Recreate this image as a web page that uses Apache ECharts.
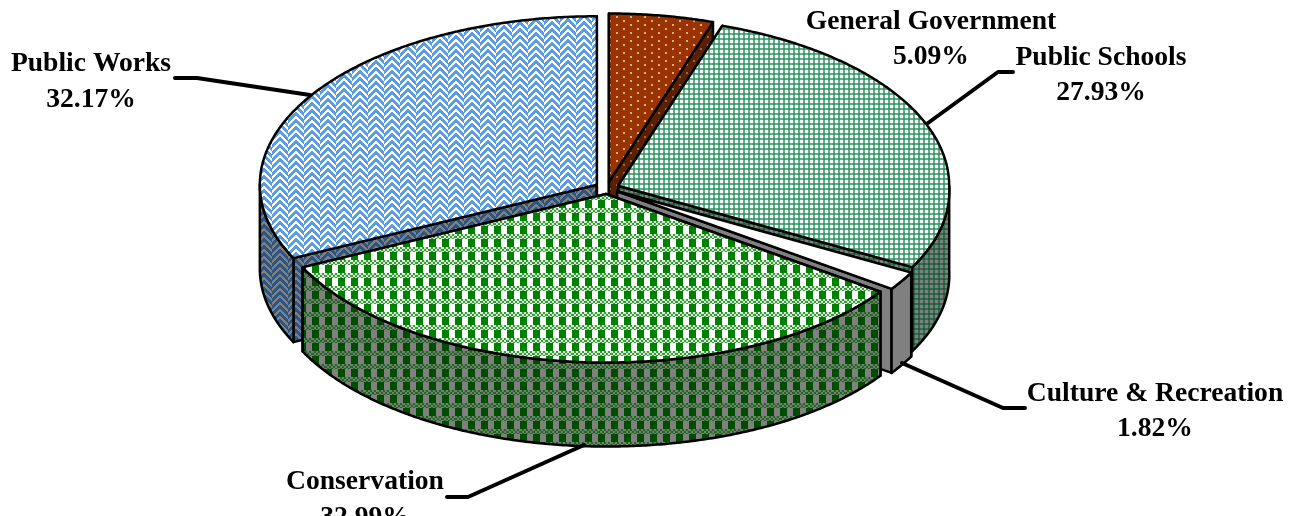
<!DOCTYPE html>
<html>
<head>
<meta charset="utf-8">
<style>html,body{margin:0;padding:0;background:#fff;overflow:hidden}#c{width:1303px;height:516px}</style>
<script src="https://cdn.jsdelivr.net/npm/echarts@6/dist/echarts.min.js"></script>
</head>
<body>
<div id="c"></div>
<script>
const categories = ['General Government', 'Public Schools', 'Culture & Recreation', 'Conservation', 'Public Works'];
const shares = [5.09, 27.93, 1.82, 32.99, 32.17];

// --- pattern tiles ---
function tile(w, h, bg, cells) {
  const cv = document.createElement('canvas');
  cv.width = w; cv.height = h;
  const g = cv.getContext('2d');
  g.fillStyle = bg; g.fillRect(0, 0, w, h);
  for (let y = 0; y < h; y++) for (let x = 0; x < w; x++) {
    const col = cells(x, y);
    if (col) { g.fillStyle = col; g.fillRect(x, y, 1, 1); }
  }
  return { image: cv, repeat: 'repeat' };
}
function dots(bg, fg) {
  return tile(14, 8, bg, (x, y) => {
    const a = x < 2 && y < 2;
    const b = x >= 7 && x < 9 && y >= 4 && y < 6;
    return a || b ? fg : null;
  });
}
function checks(bg, fg, mid) {
  return tile(5, 5, bg, (x, y) => {
    const a = x >= 3, b = y >= 3;
    if (a && b) return fg;
    return a || b ? mid : null;
  });
}
function plaid(bg, fg, bandA, bandB) {
  return tile(13, 13, bg, (x, y) => {
    if (y < 5) return ((x >> 1) + (y >> 1)) % 2 ? bandA : bandB;
    return x < 7 ? fg : null;
  });
}
function weave(bg, fg) {
  return tile(32, 7, bg, (x, y) => {
    const col = Math.floor(x / 16), u = x % 16;
    const tri = u < 8 ? u : 15 - u;
    const d = (y + tri + (col % 2 ? 3 : 0)) % 7;
    return d < 4 ? fg : null;
  });
}
const topFill = [
  dots('#993300', '#d3ab96'),
  checks('#ffffff', '#339966', '#5fae88'),
  '#ffffff',
  plaid('#ffffff', '#008000', '#3a9a3a', '#d8ecd8'),
  weave('#ffffff', '#5a9de6')
];
const sideFill = [
  dots('#5c1f00', '#8a6a58'),
  checks('#808080', '#1f5c3d', '#35694f'),
  '#808080',
  plaid('#808080', '#004d00', '#2a602a', '#6a856a'),
  weave('#808080', '#2a5584')
];

// --- label placement, in picture pixels, by slice ---
const labelBox = [
  { x: 931, y: 39.5, line: null },
  { x: 1101, y: 75.5, line: [[1013, 72], [998, 72], [928, 123]] },
  { x: 1155, y: 411.5, line: [[1025, 408], [1003, 408], [902, 363]] },
  { x: 365, y: 500, line: [[447, 497], [468, 497], [584, 445]] },
  { x: 91, y: 82, line: [[175, 78], [197, 78], [310, 95]] }
];

// --- 3D pie projection ---
const CX = 607, CY = 188, RX_LEFT = 337, RX_RIGHT = 331, FRONT_WIDEN = 0.03, RY = 168.5, DEPTH = 84, EXPLODE = 12;
const total = shares.reduce((a, b) => a + b, 0);
let acc = 0;
const spans = shares.map(v => { const s = acc / total * 360; acc += v; return [s, acc / total * 360]; });
const rad = d => d * Math.PI / 180;

function renderSlice(params, api) {
  const i = params.dataIndex;
  const [a0, a1] = spans[i];
  const mid = (a0 + a1) / 2;
  const ox = CX + EXPLODE * Math.sin(rad(mid));
  const oy = CY - EXPLODE * RY / 334 * Math.cos(rad(mid));
  const at = (deg, drop) => {
    const s = Math.sin(rad(deg)), c = Math.cos(rad(deg));
    const w = s >= 0 ? RX_RIGHT * (1 + FRONT_WIDEN * Math.max(0, -c)) : RX_LEFT;
    return [ox + w * s, oy - RY * c + (drop || 0)];
  };
  const px = p => api.coord(p);
  const arc = (from, to, drop) => {
    const out = [];
    const n = Math.max(2, Math.ceil((to - from) / 0.5));
    for (let k = 0; k <= n; k++) out.push(px(at(from + (to - from) * k / n, drop)));
    return out;
  };
  const depthRank = -Math.cos(rad(mid));
  const base = Math.round((depthRank + 1) * 100);
  const line = { stroke: '#000', lineWidth: 2.5, lineJoin: 'round' };
  const kids = [];
  // radial walls
  [a0, a1].forEach(a => {
    kids.push({
      type: 'polygon', z2: base,
      shape: { points: [px([ox, oy]), px(at(a)), px(at(a, DEPTH)), px([ox, oy + DEPTH])] },
      style: Object.assign({ fill: sideFill[i] }, line)
    });
  });
  // outer wall, front-facing part only
  const f0 = Math.max(a0, 90), f1 = Math.min(a1, 270);
  if (f1 > f0) {
    kids.push({
      type: 'polygon', z2: base + 1,
      shape: { points: arc(f0, f1, 0).concat(arc(f0, f1, DEPTH).reverse()) },
      style: Object.assign({ fill: sideFill[i] }, line)
    });
  }
  // top face
  kids.push({
    type: 'polygon', z2: base + 2,
    shape: { points: [px([ox, oy])].concat(arc(a0, a1, 0)) },
    style: Object.assign({ fill: topFill[i] }, line)
  });
  // label and leader
  const lb = labelBox[i];
  if (lb.line) {
    kids.push({
      type: 'polyline', z2: 500,
      shape: { points: lb.line.map(px) },
      style: { stroke: '#000', lineWidth: 4, fill: null, lineCap: 'round', lineJoin: 'round' }
    });
  }
  const c = px([lb.x, lb.y]);
  kids.push({
    type: 'text', z2: 600, x: c[0], y: c[1],
    style: {
      text: categories[i] + '\n' + api.value(1).toFixed(2) + '%',
      fill: '#000',
      font: 'bold 27.6px "Liberation Serif"',
      lineHeight: 35.5,
      align: 'center',
      verticalAlign: 'middle'
    }
  });
  return { type: 'group', children: kids };
}

const chart = echarts.init(document.getElementById('c'), null, { renderer: 'canvas', devicePixelRatio: 1 });
chart.setOption({
  animation: false,
  backgroundColor: '#fff',
  grid: { left: 0, right: 0, top: 0, bottom: 0 },
  xAxis: { type: 'value', min: 0, max: 1303, show: false },
  yAxis: { type: 'value', min: 0, max: 516, inverse: true, show: false },
  series: [{
    type: 'custom',
    coordinateSystem: 'cartesian2d',
    clip: false,
    silent: true,
    renderItem: renderSlice,
    encode: { x: 0, y: 1 },
    data: shares.map((v, i) => [i, v])
  }]
});
</script>
</body>
</html>
